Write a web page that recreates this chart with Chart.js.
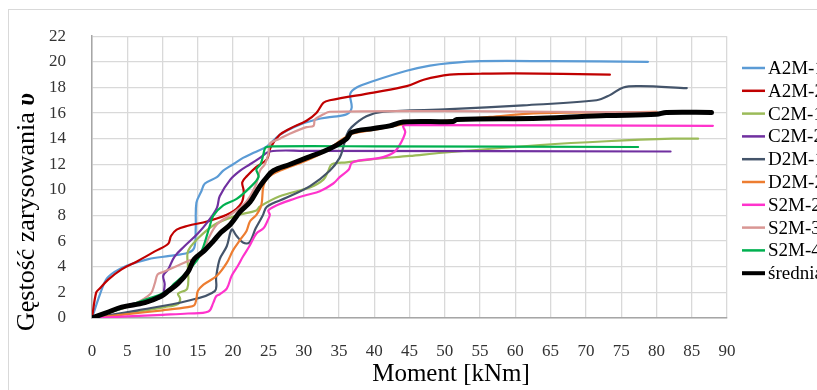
<!DOCTYPE html>
<html>
<head>
<meta charset="utf-8">
<script src="https://cdn.jsdelivr.net/npm/chart.js@4.4.1/dist/chart.umd.min.js"></script>
<style>
  html, body { margin: 0; padding: 0; background: #fff; overflow: hidden; }
  #wrap { width: 817px; height: 390px; }
</style>
</head>
<body>
<div id="wrap"><canvas id="graph" width="817" height="390"></canvas></div>
<script>
// series labels, in legend order
const seriesNames = ["A2M-1", "A2M-2", "C2M-1", "C2M-2", "D2M-1", "D2M-2", "S2M-2", "S2M-3", "S2M-4", "średnia"]
const seriesColors = ["#5B9BD5", "#C00000", "#9BBB59", "#7030A0", "#44546A", "#ED7D31", "#FF33CC", "#D99694", "#00B050", "#000000"]

// [moment kNm, gestosc]
const a2m1 = [[0,0],[1.1,1.8],[2,3],[3.2,3.6],[5,4.1],[8,4.6],[11,4.85],[13.6,5.1],[14.5,5.5],[14.7,7],[14.8,9],[15.5,9.9],[16,10.5],[17.7,11],[18.6,11.5],[20,12],[21.4,12.5],[22.9,12.9],[24.8,13.4],[26.6,14.3],[29,15],[31.8,15.5],[34,15.7],[36.1,15.9],[36.8,16.4],[36.6,17.5],[37.5,18],[39.9,18.5],[44.6,19.3],[47.9,19.7],[50.7,19.9],[55,20.05],[65,20.05],[78.8,20.0]]
const a2m2 = [[0,0],[0.6,2.0],[1.1,2.3],[2.3,3.0],[4.2,3.8],[6.5,4.45],[8.9,5.2],[10.8,5.8],[11.2,6.4],[12,6.9],[13.6,7.2],[16.4,7.55],[19.6,8.2],[21.2,9.0],[21.5,9.9],[21.3,10.6],[22,11.1],[23.3,11.8],[24.8,12.4],[25.3,13.3],[26.6,14.3],[28.1,14.8],[30.4,15.4],[31.8,16.0],[32.8,16.8],[33.7,17.0],[39.9,17.6],[44.6,18.1],[47,18.6],[50.7,19.0],[55,19.07],[60,19.1],[73.4,19.0]]
const c2m1 = [[0,0],[5,0.35],[10.3,0.85],[12.2,1.1],[12.5,1.5],[12.2,1.9],[13.5,2.3],[13.6,4],[13.6,5.2],[15,6.2],[17.4,7.3],[20.5,8.0],[23.3,8.4],[23.8,8.7],[26.6,9.5],[30.9,10.2],[32.8,10.8],[33.5,11.5],[34,12],[36.1,12.15],[39.8,12.4],[45,12.65],[49.7,12.9],[63.5,13.5],[72.9,13.8],[82.3,14],[85.9,14]]
const c2m2 = [[0,0],[4.2,0.85],[7.5,1.35],[9.8,1.6],[10.3,2.6],[10.1,3.3],[10.8,3.8],[11.7,4.8],[13.1,5.6],[15,6.6],[16.4,7.5],[17.7,8.6],[18.1,9.5],[19.6,10.8],[21,11.5],[22.4,12],[23.8,12.5],[25.2,13],[30,13.05],[82,13]]
const d2m1 = [[0,0],[6.5,0.6],[13.6,1.35],[17.4,2.1],[17.6,3.2],[18.1,4.6],[19.1,5.6],[19.8,6.9],[20.5,6.4],[21.4,5.9],[22.3,5.9],[23.2,7.0],[24.2,8.0],[24.8,8.7],[27.6,9.4],[30.9,10.3],[33.7,11.5],[35.1,12.5],[35.6,13.3],[36.1,14.3],[36.8,14.9],[38.9,15.75],[41.3,16.1],[50.7,16.3],[61.1,16.6],[71.5,17],[73.4,17.4],[75.3,18],[77.7,18.1],[84.3,17.95]]
const d2m2 = [[0,0],[5,0.3],[10,0.6],[13.6,0.85],[14.5,1.0],[14.8,1.5],[15.0,2.1],[15.8,2.6],[17.7,3.3],[19.1,4.3],[20,5.3],[21,6.1],[21.9,6.8],[22.4,7.55],[23.3,8.05],[24,8.8],[24.3,10.3],[25,11],[26.6,11.5],[30.4,12.3],[33,13.0],[35.6,14.0],[37,14.4],[40,14.7],[45,15.2],[50,15.4],[56.4,15.7],[63.5,16.0],[80,16.1]]
const s2m2 = [[0,0],[5,0.12],[10,0.25],[13.6,0.35],[16.5,0.5],[17.2,1.2],[17.6,1.7],[18.1,1.85],[19.1,2.3],[19.8,3.3],[20.7,4.1],[21.4,4.8],[22.3,5.6],[23.3,6.6],[24.3,7.0],[24.8,7.5],[25.2,8.05],[25.0,8.4],[26.2,8.8],[28.1,9.2],[30.4,9.6],[32.3,9.9],[34.2,10.5],[35.1,11],[36.4,11.6],[36.8,12.1],[38,12.3],[40.8,12.5],[42.7,12.9],[43.6,13.5],[44.4,14.5],[44.1,15],[45,15.05],[88,15]]
const s2m3 = [[0,0],[3,0.5],[6,1.1],[8.3,1.9],[8.9,2.7],[9.3,3.4],[10.1,3.6],[12.2,4.1],[13.6,4.45],[15.5,4.9],[16.5,6.2],[17.7,7.3],[19.6,8.05],[21.4,8.8],[22.4,9.5],[23.3,10.5],[23.8,11.5],[24.5,12],[25,12.8],[25.2,13.6],[26.6,14],[28.1,14.4],[30.4,14.9],[31.4,15.0],[31.6,15.5],[32.8,15.9],[33.7,16.1],[50,16.15],[65,16.1],[80,16.05]]
const s2m4 = [[0,0],[4,0.7],[7.9,1.5],[9.5,1.8],[10.8,2.2],[11.7,2.7],[13.1,3.4],[15,4.6],[15.8,5.6],[16.7,7.2],[17.2,8.0],[18.6,8.8],[20.5,9.3],[22.4,10.2],[23.6,11.0],[23.3,11.6],[23.9,12.0],[24.3,12.8],[24.6,13.3],[25.7,13.4],[40,13.4],[77.4,13.35]]
const srednia = [[0,0],[2,0.4],[4.2,0.85],[7.5,1.2],[9.8,1.7],[10.8,2.1],[12.2,2.7],[13.6,3.6],[14.5,4.6],[16,5.3],[17.2,6.0],[18.3,6.7],[19.6,7.3],[21,8.3],[22.4,9.05],[23.8,10.3],[24.8,11.0],[25.7,11.5],[28.1,12.0],[30.4,12.5],[32.8,13.0],[34.7,13.5],[36.1,14.0],[36.8,14.5],[39.9,14.8],[42.2,15.0],[44.1,15.3],[51.2,15.35],[51.7,15.5],[63.5,15.6],[72.9,15.8],[80,15.9],[81.4,16.05],[87.8,16.05]]

const allSeries = [a2m1, a2m2, c2m1, c2m2, d2m1, d2m2, s2m2, s2m3, s2m4, srednia]

const xTitle = "Moment [kNm]"
const yTitle = "Gęstość zarysowania "
const yTitleSymbol = "υ"

const serif = "'Liberation Serif', 'Times New Roman', serif"

// white page, thin outer frame, axis titles and the clipped legend on the right
const decorations = {
    id: "decorations",
    beforeDraw(chart) {
        const ctx = chart.ctx
        ctx.save()
        ctx.fillStyle = "#fff"
        ctx.fillRect(0, 0, chart.width, chart.height)
        ctx.strokeStyle = "#D9D9D9"
        ctx.lineWidth = 1
        ctx.strokeRect(8.5, 9.5, 1000, 1000)
        ctx.restore()
    },
    afterDraw(chart) {
        const ctx = chart.ctx
        ctx.save()
        // x title
        ctx.fillStyle = "#000"
        ctx.font = "25px " + serif
        ctx.textAlign = "center"
        ctx.textBaseline = "middle"
        ctx.fillText(xTitle, 451, 374)

        // y title, rotated, symbol in bold italic
        ctx.translate(27, 212)
        ctx.rotate(-Math.PI / 2)
        ctx.font = "26px " + serif
        const w1 = ctx.measureText(yTitle).width
        ctx.font = "bold italic 26px " + serif
        const w2 = ctx.measureText(yTitleSymbol).width
        const start = -(w1 + w2) / 2
        ctx.textAlign = "left"
        ctx.font = "26px " + serif
        ctx.fillText(yTitle, start, 0)
        ctx.font = "bold italic 26px " + serif
        ctx.fillText(yTitleSymbol, start + w1, 0)
        ctx.restore()

        // legend
        ctx.save()
        ctx.font = "19px " + serif
        ctx.textBaseline = "middle"
        chart.data.datasets.forEach((ds, i) => {
            const y = 68 + i * 22.8
            ctx.strokeStyle = ds.borderColor
            ctx.lineWidth = ds.label === "średnia" ? 4 : 2.5
            ctx.beginPath()
            ctx.moveTo(742, y)
            ctx.lineTo(765, y)
            ctx.stroke()
            ctx.fillStyle = "#000"
            ctx.fillText(ds.label, 768, y + 1)
        })
        ctx.restore()
    }
}

const datasets = allSeries.map((arr, i) => ({
    label: seriesNames[i],
    data: arr.map(p => ({ x: p[0], y: p[1] })),
    borderColor: seriesColors[i],
    backgroundColor: seriesColors[i],
    borderWidth: i === 9 ? 5 : 2.2,
    pointRadius: 0,
    showLine: true,
    tension: 0.35,
    fill: false,
    order: i === 9 ? -100 : -i,
    borderCapStyle: "round",
    borderJoinStyle: "round"
}))

const tickFont = { family: serif, size: 17 }

new Chart(document.getElementById("graph"), {
    type: "scatter",
    data: { datasets },
    options: {
        responsive: false,
        animation: false,
        devicePixelRatio: 1,
        layout: { padding: { left: 0, top: 23, right: 90, bottom: 0 } },
        plugins: {
            legend: { display: false },
            tooltip: { enabled: false }
        },
        scales: {
            x: {
                type: "linear",
                min: 0,
                max: 90,
                ticks: { stepSize: 5, padding: 23, color: "#333333", font: tickFont, maxRotation: 0 },
                grid: { color: "#D9D9D9", lineWidth: 1.3, drawTicks: false },
                border: { color: "#A6A6A6", width: 1.5 },
                afterFit: (s) => { s.height = 72 }
            },
            y: {
                min: 0,
                max: 22,
                ticks: { stepSize: 2, padding: 26, color: "#333333", font: tickFont },
                grid: { color: "#D9D9D9", lineWidth: 1.3, drawTicks: false },
                border: { color: "#A6A6A6", width: 1.5 },
                afterFit: (s) => { s.width = 92 }
            }
        }
    },
    plugins: [decorations]
})
</script>
</body>
</html>
